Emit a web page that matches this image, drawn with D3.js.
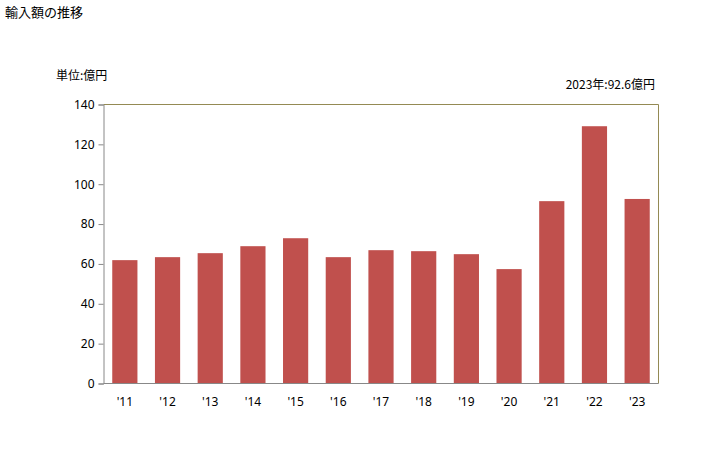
<!DOCTYPE html>
<html><head><meta charset="utf-8">
<script src="https://cdn.jsdelivr.net/npm/d3@7"></script>
<style>body{margin:0;background:#fff;} text{font-family:"Noto Sans CJK JP","Noto Sans",sans-serif;}</style>
</head><body><svg id="c" width="728" height="450"></svg>
<script>
const categories = ["'11","'12","'13","'14","'15","'16","'17","'18","'19","'20","'21","'22","'23"];
const values = [61.9,63.4,65.4,68.9,72.9,63.4,66.9,66.4,64.9,57.4,91.5,129.1,92.6];
const yTicks = [0,20,40,60,80,100,120,140];
const title = "輸入額の推移";
const unitLabel = "単位:億円";
const noteLabel = "2023年:92.6億円";

const svg = d3.select("#c");
const m = {l:103.5, r:658.5, t:104.5, b:383.5};
const x = d3.scaleBand().domain(categories).range([m.l, m.r]).paddingInner(0.41).paddingOuter(0.205);
const y = d3.scaleLinear().domain([0,140]).range([m.b, m.t]);

svg.append("text").attr("x",5).attr("y",17).attr("font-size",13).attr("fill","#000").text(title);
svg.append("text").attr("x",56).attr("y",80).attr("font-size",12).attr("fill","#000").text(unitLabel);
svg.append("text").attr("x",655).attr("y",89).attr("font-size",12).attr("text-anchor","end").attr("fill","#000").text(noteLabel);

// frame top/right
svg.append("path").attr("d",`M${m.l},${m.t}H${m.r}V${m.b}`).attr("fill","none").attr("stroke","#948A54").attr("stroke-width",1);

svg.append("g").selectAll("rect").data(values).join("rect")
  .attr("x",(d,i)=>x(categories[i])).attr("width",x.bandwidth())
  .attr("y",d=>y(d)).attr("height",d=>y(0)-y(d)).attr("fill","#C0504D");

const ya = svg.append("g").attr("transform",`translate(${m.l},0)`)
  .call(d3.axisLeft(y).tickValues(yTicks).tickSize(5).tickPadding(4));
ya.select(".domain").attr("stroke","#888");
ya.selectAll(".tick line").attr("stroke","#888");
ya.selectAll("text").attr("font-size",12).attr("fill","#000").style("font-family","'Noto Sans','DejaVu Sans',sans-serif");

const xa = svg.append("g").attr("transform",`translate(0,${m.b})`)
  .call(d3.axisBottom(x).tickSize(0).tickPadding(14));
xa.select(".domain").attr("stroke","#888").attr("d",`M${m.l},0H${m.r}`);
xa.selectAll("text").attr("font-size",12).attr("fill","#000").style("font-family","'Noto Sans','DejaVu Sans',sans-serif");
</script></body></html>
